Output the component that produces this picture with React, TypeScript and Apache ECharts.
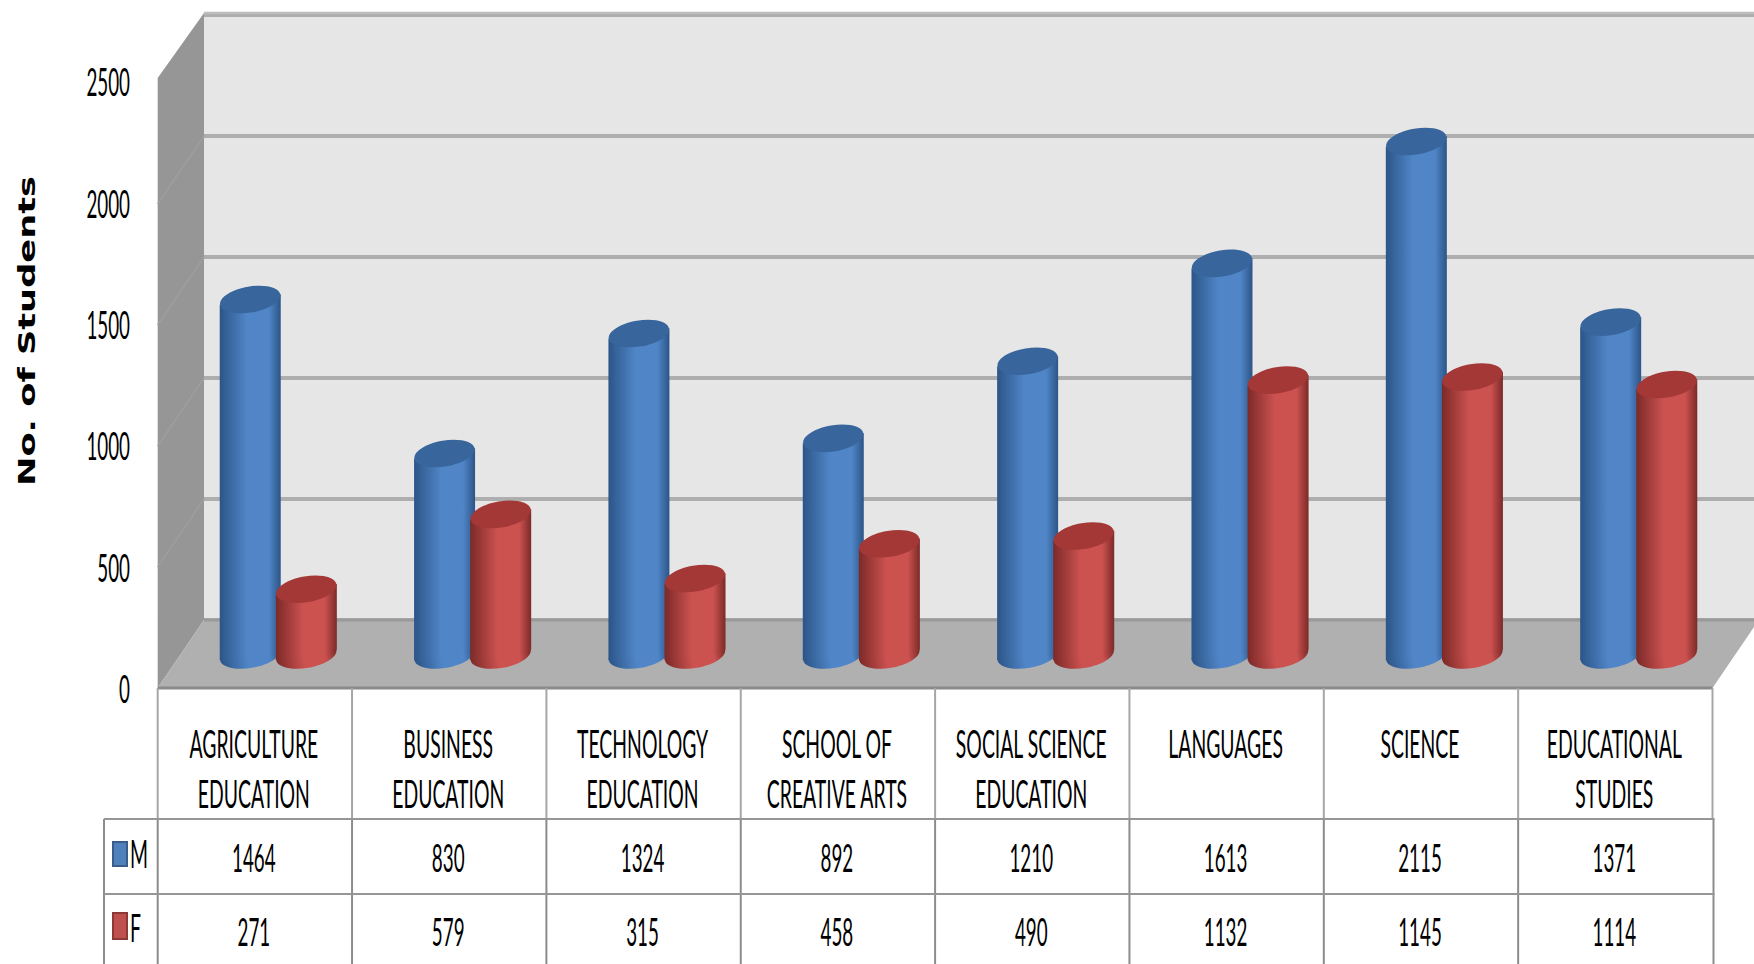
import React, { useEffect, useRef } from "react";
import * as echarts from "echarts";

const categoryLines: string[][] = [
  ["AGRICULTURE", "EDUCATION"],
  ["BUSINESS", "EDUCATION"],
  ["TECHNOLOGY", "EDUCATION"],
  ["SCHOOL OF", "CREATIVE ARTS"],
  ["SOCIAL SCIENCE", "EDUCATION"],
  ["LANGUAGES"],
  ["SCIENCE"],
  ["EDUCATIONAL", "STUDIES"],
];
const maleValues = [1464, 830, 1324, 892, 1210, 1613, 2115, 1371];
const femaleValues = [271, 579, 315, 458, 490, 1132, 1145, 1114];
const yTicks = [0, 500, 1000, 1500, 2000, 2500];
const yTitle = "No. of Students";

const W = 1754;
const H = 964;
const FL = 157.7; // front-left x
const FR = 1712.5; // front-right x
const FY = 688; // front floor y
const TOPF = 81; // y of 2500 on the front plane
const BL = 204; // back-left x
const BY = 620; // back floor y
const TOPB = 15; // y of 2500 on back wall
const CELL = (FR - FL) / 8;
const ROW1 = 819;
const ROW2 = 894;
const LEGX = 104;
const FONT_SIZE = 38;
const SX_LETTERS = 0.51;
const SX_DIGITS = 0.495;
const FONT = "Lato";
const OX = (BL - FL) / 2;
const OY_BAR = 33;

function narrowText(text: string, x: number, y: number, sx: number, align = "center") {
  return {
    type: "text",
    x,
    y,
    scaleX: sx,
    silent: true,
    style: {
      text,
      x: 0,
      y: 0,
      font: `${FONT_SIZE}px ${FONT}`,
      fill: "#000",
      align,
      textAlign: align,
      verticalAlign: "middle",
      textVerticalAlign: "middle",
    },
  };
}

function cylinder(dx: number, edge: string, mid: string, top: string) {
  return (_p: any, api: any) => {
    const i = api.value(0);
    const base = api.coord([i, 0]);
    const head = api.coord([i, api.value(1)]);
    const cx = base[0] + OX + dx;
    const y0 = base[1] - OY_BAR;
    const y1 = head[1] - OY_BAR;
    const rx = 30.5;
    const ry = 13;
    const tilt = 5.2;
    const rot = 0.17;
    const grad = new echarts.graphic.LinearGradient(0, 0, 1, 0, [
      { offset: 0, color: edge },
      { offset: 0.45, color: mid },
      { offset: 0.8, color: mid },
      { offset: 1, color: edge },
    ]);
    return {
      type: "group",
      children: [
        { type: "ellipse", x: cx, y: y0, rotation: rot, shape: { cx: 0, cy: 0, rx, ry }, style: { fill: grad } },
        {
          type: "polygon",
          shape: {
            points: [
              [cx - rx, y1 + tilt],
              [cx + rx, y1 - tilt],
              [cx + rx, y0 - tilt],
              [cx - rx, y0 + tilt],
            ],
          },
          style: { fill: grad },
        },
        { type: "ellipse", x: cx, y: y1, rotation: rot, shape: { cx: 0, cy: 0, rx, ry }, style: { fill: top } },
      ],
    };
  };
}

export default function App() {
  const ref = useRef<HTMLDivElement>(null);
  useEffect(() => {
    if (!ref.current) return;
    const chart = echarts.init(ref.current, undefined, { renderer: "svg" });

    const tableLines: any[] = [];
    const hline = (x1: number, x2: number, y: number, c: string) =>
      tableLines.push({ type: "line", z: 1, silent: true, shape: { x1, y1: y, x2, y2: y }, style: { stroke: c, lineWidth: 2 } });
    const vline = (x: number, y1: number, y2: number, c: string) =>
      tableLines.push({ type: "line", z: 1, silent: true, shape: { x1: x, y1, x2: x, y2 }, style: { stroke: c, lineWidth: 2 } });
    for (let i = 0; i <= 8; i++) {
      const x = FL + i * CELL;
      vline(x, FY, ROW1, "#a6a6a6");
      vline(x + (i === 8 ? 1 : 0), ROW1, H, "#8c8c8c");
    }
    vline(LEGX, ROW1, H, "#8c8c8c");
    hline(LEGX, FR + 2, ROW1, "#969696");
    hline(LEGX, FR + 2, ROW2, "#969696");

    const wallScale = (BY - TOPB) / (yTicks[yTicks.length - 1] - yTicks[0]);
    const wallLines = yTicks.slice(1, -1).map((v) => ({
      type: "line",
      z: 1,
      silent: true,
      shape: {
        x1: BL,
        y1: BY - v * wallScale,
        x2: FL,
        y2: FY - v * wallScale,
      },
      style: { stroke: "#9e9e9e", lineWidth: 1.5 },
    }));

    const option: any = {
      animation: false,
      backgroundColor: "#ffffff",
      graphic: {
        elements: [
          {
            type: "polygon",
            z: 1,
            silent: true,
            shape: { points: [[FL, 78], [BL, 13], [BL, BY], [FL, FY]] },
            style: { fill: "#969696" },
          },
          ...wallLines,
          {
            type: "polygon",
            z: 1,
            silent: true,
            shape: { points: [[FL, FY], [BL, BY], [W, BY], [W, 627], [FR, FY]] },
            style: { fill: "#b0b0b0" },
          },
          { type: "line", z: 1, silent: true, shape: { x1: BL, y1: BY, x2: W, y2: BY }, style: { stroke: "#9a9a9a", lineWidth: 3 } },
          { type: "line", z: 1, silent: true, shape: { x1: FL, y1: FY, x2: FR, y2: FY }, style: { stroke: "#8a8a8a", lineWidth: 3 } },
          { type: "line", z: 1, silent: true, shape: { x1: BL, y1: 13, x2: W, y2: 13 }, style: { stroke: "#bdbdbd", lineWidth: 2.5 } },
          ...tableLines,
          { type: "rect", z: 1, silent: true, shape: { x: 113, y: 842, width: 14, height: 24 }, style: { fill: "#4f81bd", stroke: "#385d8a", lineWidth: 2 } },
          { type: "rect", z: 1, silent: true, shape: { x: 113, y: 913, width: 14, height: 26 }, style: { fill: "#c0504d", stroke: "#8c3836", lineWidth: 2 } },
          { ...narrowText("M", 130, 853, SX_LETTERS, "left"), z: 2 },
          { ...narrowText("F", 130, 927, SX_LETTERS, "left"), z: 2 },
          {
            type: "text",
            z: 2,
            silent: true,
            x: 27,
            y: 331,
            rotation: Math.PI / 2,
            scaleX: 1.53,
            style: {
              text: yTitle,
              x: 0,
              y: 0,
              font: "bold 23px 'DejaVu Sans'",
              fill: "#000",
              align: "center",
              textAlign: "center",
              verticalAlign: "middle",
              textVerticalAlign: "middle",
            },
          },
        ],
      },
      grid: [
        { left: FL, width: FR - FL, top: TOPF, height: FY - TOPF, show: false },
        {
          left: BL,
          width: W - BL,
          top: TOPB,
          height: BY - TOPB,
          show: true,
          backgroundColor: "#e6e6e6",
          borderWidth: 0,
        },
      ],
      xAxis: [
        { type: "category", gridIndex: 0, data: categoryLines.map((c) => c.join(" ")), axisLine: { show: false }, axisTick: { show: false }, axisLabel: { show: false } },
        { type: "category", gridIndex: 1, data: categoryLines.map((c) => c.join(" ")), axisLine: { show: false }, axisTick: { show: false }, axisLabel: { show: false } },
      ],
      yAxis: [
        { type: "value", gridIndex: 0, min: 0, max: 2500, interval: 500, axisLine: { show: false }, axisTick: { show: false }, axisLabel: { show: false }, splitLine: { show: false } },
        {
          type: "value",
          gridIndex: 1,
          min: 0,
          max: 2500,
          interval: 500,
          axisLine: { show: false },
          axisTick: { show: false },
          axisLabel: { show: false },
          splitLine: { show: true, lineStyle: { color: "#aeaeae", width: 4 } },
        },
      ],
      series: [
        {
          type: "custom",
          name: "M",
          z: 5,
          clip: false,
          xAxisIndex: 0,
          yAxisIndex: 0,
          data: maleValues.map((v, i) => [i, v]),
          renderItem: cylinder(-27.8, "#2c5588", "#5086c8", "#38659b"),
        },
        {
          type: "custom",
          name: "F",
          z: 6,
          clip: false,
          xAxisIndex: 0,
          yAxisIndex: 0,
          data: femaleValues.map((v, i) => [i, v]),
          renderItem: cylinder(28.3, "#7c2a28", "#cc5250", "#a33836"),
        },
        {
          type: "custom",
          name: "table",
          z: 7,
          clip: false,
          xAxisIndex: 0,
          yAxisIndex: 0,
          data: categoryLines.map((_c, i) => [i, 0]),
          renderItem: (_p: any, api: any) => {
            const i = api.value(0);
            const x = api.coord([i, 0])[0] - 1;
            const lines = categoryLines[i];
            return {
              type: "group",
              children: [
                narrowText(lines[0], x, 743, SX_LETTERS),
                ...(lines[1] ? [narrowText(lines[1], x, 793, SX_LETTERS)] : []),
                narrowText(String(maleValues[i]), x, 857, SX_DIGITS),
                narrowText(String(femaleValues[i]), x, 931, SX_DIGITS),
              ],
            };
          },
        },
        {
          type: "custom",
          name: "ticks",
          z: 7,
          clip: false,
          xAxisIndex: 0,
          yAxisIndex: 0,
          data: yTicks.map((v) => [0, v]),
          renderItem: (_p: any, api: any) => {
            const v = api.value(1);
            const y = api.coord([0, v])[1];
            return narrowText(String(v), 130, y, SX_DIGITS, "right");
          },
        },
      ],
    };
    chart.setOption(option);
    return () => chart.dispose();
  }, []);
  return <div ref={ref} style={{ position: "absolute", left: 0, top: 0, width: W, height: H }} />;
}
